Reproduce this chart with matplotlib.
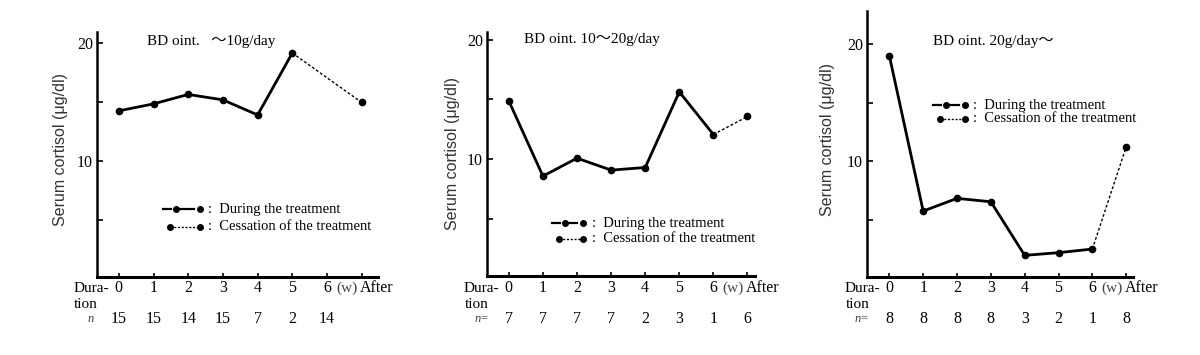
import numpy as np
import matplotlib
matplotlib.use("Agg")
from matplotlib import pyplot as plt
from matplotlib.lines import Line2D
from matplotlib.transforms import blended_transform_factory

# x categories (weeks of treatment, then after cessation)
weeks = ['0', '1', '2', '3', '4', '5', '6', 'After']

titles = ['BD oint.   \u301c10g/day', 'BD oint. 10\u301c20g/day', 'BD oint. 20g/day\u301c']

# serum cortisol (ug/dl), nan = no point
cort1 = [14.25, 14.84, 15.64, 15.18, 13.90, 19.15, np.nan, 14.96]
cort2 = [14.87, 8.58, 10.08, 9.08, 9.30, 15.63, 12.06, 13.57]
cort3 = [19.00, 5.78, 6.86, 6.57, 2.01, 2.24, 2.55, 11.25]

n1 = ['15', '15', '14', '15', '7', '2', '14', '']
n2 = ['7', '7', '7', '7', '2', '3', '1', '6']
n3 = ['8', '8', '8', '8', '3', '2', '1', '8']

W, H = 1200, 355
SERIF = ['Liberation Serif', 'Noto Sans CJK JP', 'DejaVu Serif']
SANS = ['Liberation Sans', 'DejaVu Sans']

fig = plt.figure(figsize=(W / 100, H / 100), dpi=100)

def px(x, y):
    return x / W, 1 - y / H

# panel layout in pixels: left, right, top, bottom, xlim, ylim, extras
panels = [
    dict(box=(97, 378, 32, 277), xlim=(-0.63, 7.47), ylim=(0.17, 20.93),
         vals=cort1, n=n1, title=titles[0], tx=0.8, ty=41, nlab='n',
         ylab=(60, 150), leg=(163, 200, 208, 209, 227)),
    dict(box=(487, 755, 32, 276), xlim=(-0.64, 7.22), ylim=(0.22, 20.64),
         vals=cort2, n=n2, title=titles[1], tx=0.44, ty=39, nlab='n=',
         ylab=(452, 153), leg=(552, 583, 592, 223, 239)),
    dict(box=(867, 1133, 11, 277), xlim=(-0.66, 7.2), ylim=(0.17, 22.8),
         vals=cort3, n=n3, title=titles[2], tx=1.29, ty=42, nlab='n=',
         ylab=(828, 140), leg=(933, 965, 973, 105, 119)),
]

xs = np.arange(len(weeks))

for p in panels:
    l, r, t, b = p['box']
    ax = fig.add_axes([l / W, 1 - b / H, (r - l) / W, (b - t) / H])
    ax.set_xlim(*p['xlim'])
    ax.set_ylim(*p['ylim'])
    for s in ['top', 'right']:
        ax.spines[s].set_visible(False)
    ax.spines['left'].set_linewidth(1.8)
    ax.spines['bottom'].set_linewidth(2.2)

    ax.set_yticks([5, 10, 15, 20])
    ax.set_yticklabels(['', '10', '', '20'], fontsize=11.5, family=SERIF)
    ax.tick_params(axis='y', direction='in', length=4, width=1.2, pad=3)
    ax.set_xticks(xs)
    ax.set_xticklabels([])
    ax.tick_params(axis='x', direction='in', length=3, width=1.2)

    v = np.array(p['vals'])
    during = [i for i in range(len(v) - 1) if not np.isnan(v[i])]
    ax.plot(xs[during], v[during], color='black', lw=2.0, zorder=2)
    last = during[-1]
    ax.plot([xs[last], xs[-1]], [v[last], v[-1]], color='black', lw=1.0,
            dashes=(2, 1.5), zorder=2)
    ok = ~np.isnan(v)
    ax.plot(xs[ok], v[ok], 'o', color='black', ms=4.5, zorder=3)

    # title
    tr = blended_transform_factory(ax.transData, fig.transFigure)
    ax.text(p['tx'], 1 - p['ty'] / H, p['title'], transform=tr, fontsize=11,
            family=SERIF, ha='left', va='center')

    # x tick labels and n row
    for i, w in enumerate(weeks):
        if w == 'After':
            ax.text(xs[i] - 0.05, 1 - 288 / H, w, transform=tr, fontsize=11.5,
                    family=SERIF, ha='left', va='center')
        else:
            ax.text(xs[i], 1 - 288 / H, w, transform=tr, fontsize=11.5,
                    family=SERIF, ha='center', va='center')
        ax.text(xs[i], 1 - 319 / H, p['n'][i], transform=tr, fontsize=11.5,
                family=SERIF, ha='center', va='center')
    ax.text(6.57, 1 - 288 / H, '(w)', transform=tr, fontsize=11,
            family=SERIF, ha='center', va='center', color='#444444')
    ax.text(-0.27, 1 - 288 / H, 'Dura-', transform=tr, fontsize=11,
            family=SERIF, ha='right', va='center')
    ax.text(-1.3, 1 - 304 / H, 'tion', transform=tr, fontsize=11,
            family=SERIF, ha='left', va='center')
    ax.text(-0.8, 1 - 319 / H, p['nlab'], transform=tr, fontsize=9,
            family=SERIF, style='italic', ha='center', va='center', color='#444444')

    # y label
    yx, yy = px(*p['ylab'])
    fig.text(yx, yy, 'Serum cortisol (\u03bcg/dl)', rotation=90, fontsize=11.5,
             family=SANS, ha='center', va='center', color='#333333')

    # legend drawn by hand
    x0, x1, xt, y1, y2 = p['leg']
    b_ = px(x0, y1)[1]
    fig.add_artist(Line2D([px(x0, 0)[0], px(x0 + 8, 0)[0]], [b_, b_], color='black', lw=1.6))
    fig.add_artist(Line2D([px(x0 + 17, 0)[0], px(x1 - 6, 0)[0]], [b_, b_], color='black', lw=1.6))
    fig.add_artist(Line2D([px(x0 + 13, 0)[0], px(x1, 0)[0]], [b_, b_], ls='none',
                          marker='o', ms=4, color='black'))
    fig.text(px(xt, 0)[0], b_, ':  During the treatment', fontsize=10.5, family=SERIF,
             ha='left', va='center')
    c = px(x0, y2)[1]
    fig.add_artist(Line2D([px(x0 + 7, 0)[0], px(x1, 0)[0]], [c, c], color='black', lw=1.0,
                          dashes=(1.5, 1.2)))
    fig.add_artist(Line2D([px(x0 + 7, 0)[0], px(x1, 0)[0]], [c, c], ls='none',
                          marker='o', ms=4, color='black'))
    fig.text(px(xt, 0)[0], c, ':  Cessation of the treatment', fontsize=10.5, family=SERIF,
             ha='left', va='center')

fig.savefig('out.png', dpi=100, facecolor='white')
